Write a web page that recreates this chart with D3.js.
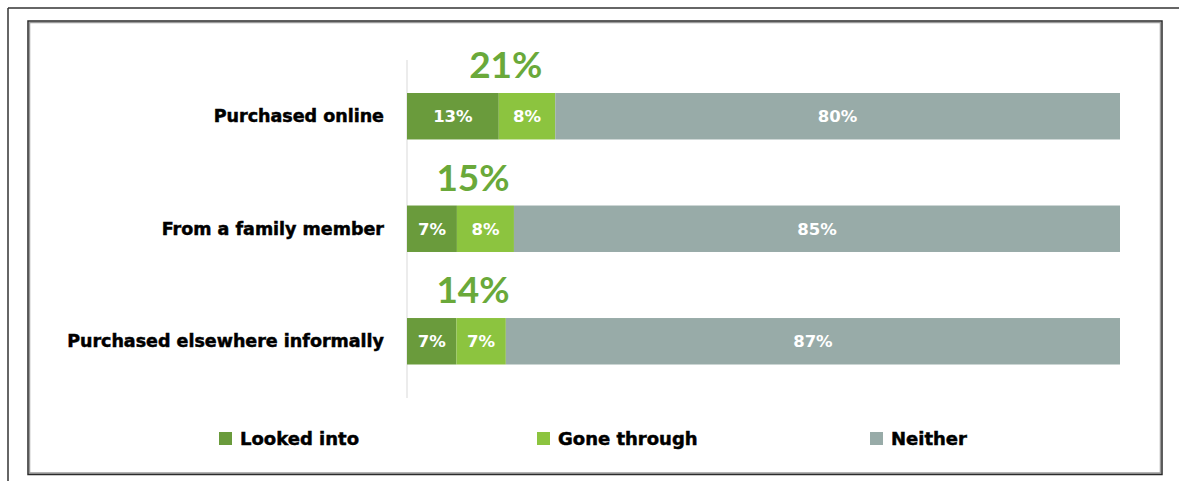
<!DOCTYPE html>
<html>
<head>
<meta charset="utf-8">
<script src="https://cdn.jsdelivr.net/npm/d3@7"></script>
<style>
  body { margin: 0; background: #fff; }
  svg { display: block; }
  text { font-family: "Lato", "Open Sans", "DejaVu Sans", sans-serif; }
  .heavy { font-family: "DejaVu Sans", "Lato", sans-serif; font-weight: 700; }
  .ink { stroke: #000; stroke-width: 0.5px; }
</style>
</head>
<body>
<svg id="chart" width="1179" height="481"></svg>
<script>
// Sources of the product: share who looked into / went through the process
const categories = ["Purchased online", "From a family member", "Purchased elsewhere informally"];
const seriesNames = ["Looked into", "Gone through", "Neither"];
const lookedInto = [13, 7, 7];
const goneThrough = [8, 8, 7];
const neither = [80, 85, 87];
const seriesColors = ["#6a9b3c", "#8cc43f", "#98aba8"];

const rows = categories.map((c, i) => ({
  category: c,
  "Looked into": lookedInto[i],
  "Gone through": goneThrough[i],
  "Neither": neither[i]
}));

const svg = d3.select("#chart");
const W = 1179, H = 481;

// page frame and chart box
svg.append("line").attr("x1", 8).attr("y1", 8).attr("x2", W).attr("y2", 8)
  .attr("stroke", "#333").attr("stroke-width", 1.5);
svg.append("line").attr("x1", 8).attr("y1", 8).attr("x2", 8).attr("y2", H)
  .attr("stroke", "#333").attr("stroke-width", 1.5);
svg.append("rect").attr("x", 29.5).attr("y", 22.5).attr("width", 1131).attr("height", 450.5)
  .attr("fill", "none").attr("stroke", "#9a9a9a").attr("stroke-width", 1.5);
svg.append("rect").attr("x", 28).attr("y", 21).attr("width", 1134).attr("height", 453.5)
  .attr("fill", "none").attr("stroke", "#2a2a2a").attr("stroke-width", 1.5);

const x0 = 407, x1 = 1120;
const y = d3.scaleBand().domain(categories).range([93, 364.5]).paddingInner(0.587).paddingOuter(0);
const color = d3.scaleOrdinal().domain(seriesNames).range(seriesColors);

const stacked = d3.stack().keys(seriesNames)(rows);
// each bar fills the full width, scaled to its own row total
const xScales = rows.map(r => d3.scaleLinear()
  .domain([0, d3.sum(seriesNames, k => r[k])]).range([x0, x1]));

// baseline axis
svg.append("line").attr("x1", x0).attr("x2", x0).attr("y1", 60).attr("y2", 398)
  .attr("stroke", "#e6e6e6").attr("stroke-width", 1.5);

const layers = svg.append("g").selectAll("g").data(stacked).join("g")
  .attr("fill", d => color(d.key));

layers.selectAll("rect").data(d => d.map((v, i) => ({ v, i, key: d.key }))).join("rect")
  .attr("x", d => xScales[d.i](d.v[0]))
  .attr("width", d => xScales[d.i](d.v[1]) - xScales[d.i](d.v[0]))
  .attr("y", d => y(categories[d.i]))
  .attr("height", y.bandwidth());

// segment values
const segLabels = svg.append("g");
stacked.forEach(layer => {
  layer.forEach((v, i) => {
    const xs = xScales[i];
    segLabels.append("text")
      .attr("class", "heavy")
      .attr("x", (xs(v[0]) + xs(v[1])) / 2)
      .attr("y", y(categories[i]) + y.bandwidth() / 2 + 6)
      .attr("text-anchor", "middle")
      .attr("fill", "#fff")
      .attr("font-size", 16.5)
      .text((v[1] - v[0]) + "%");
  });
});

// combined (looked into + gone through) totals above each bar
rows.forEach((r, i) => {
  const total = r["Looked into"] + r["Gone through"];
  const cx = Math.max(x0 + 66, xScales[i](r["Looked into"]) + 7);
  svg.append("text")
    .attr("x", cx)
    .attr("y", y(categories[i]) - 15)
    .attr("text-anchor", "middle")
    .attr("fill", "#6aa93a")
    .attr("font-size", 37)
    .attr("font-weight", 700)
    .text(total + "%");
});

// category labels
svg.append("g").selectAll("text").data(categories).join("text")
  .attr("class", "heavy ink")
  .attr("x", 384)
  .attr("y", d => y(d) + y.bandwidth() / 2 + 6)
  .attr("text-anchor", "end")
  .attr("fill", "#000")
  .attr("font-size", 17.5)
  .text(d => d);

// legend
const legendX = [219, 537, 870];
const legend = svg.append("g").selectAll("g").data(seriesNames).join("g")
  .attr("transform", (d, i) => `translate(${legendX[i]},432)`);
legend.append("rect").attr("width", 13).attr("height", 13).attr("fill", d => color(d));
legend.append("text").attr("class", "heavy ink").attr("x", 21).attr("y", 13)
  .attr("fill", "#000").attr("font-size", 18)
  .text(d => d);
</script>
</body>
</html>
